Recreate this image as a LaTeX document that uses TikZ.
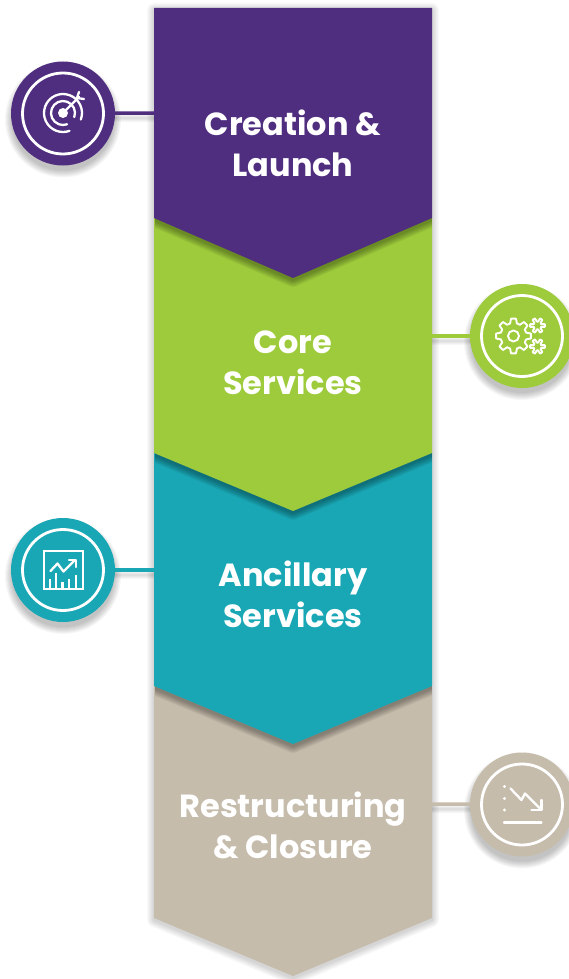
\documentclass[tikz,border=0pt]{standalone}
\usepackage{fontspec}
\setmainfont{Poppins}
\usetikzlibrary{calc}
\definecolor{purplestage}{HTML}{4F2D7F}
\definecolor{greenstage}{HTML}{9DCB3B}
\definecolor{tealstage}{HTML}{1AA7B5}
\definecolor{beigestage}{HTML}{C6BCAC}
\tikzset{
	stagetext/.style={text=white,align=center,font=\fontsize{32}{41}\selectfont\bfseries},
	badge/.style={circle,minimum size=104pt,inner sep=0pt,fill=#1},
	ring/.style={draw=white,line width=2.8pt},
	icon/.style={draw=white,line width=2.3pt,line cap=round,line join=round},
	link/.style={line width=3.5pt,draw=#1}
}
% one gear outline: x, y, outer radius, inner radius, teeth
\newcommand{\gearicon}[5]{
	\pgfmathsetmacro{\gstep}{360/#5}
	\foreach \k in {1,...,#5} {
		\pgfmathsetmacro{\ga}{\k*\gstep}
		\draw[icon,line width=1.9pt] ($(#1,#2)+(\ga-0.34*\gstep:#4)$) -- ($(#1,#2)+(\ga-0.18*\gstep:#3)$) -- ($(#1,#2)+(\ga+0.18*\gstep:#3)$) -- ($(#1,#2)+(\ga+0.34*\gstep:#4)$) -- ($(#1,#2)+(\ga+0.66*\gstep:#4)$);
	}
}
\begin{document}
\begin{tikzpicture}[x=1pt,y=-1pt]
\useasboundingbox (0,0) rectangle (568,979);
\fill[white] (0,0) rectangle (568,979);
% soft shadow round the whole column
\foreach \s in {1,...,7} {
	\begin{scope}[transparency group,opacity=0.022]
		\draw[black,fill=black,line width=2*\s pt,line join=round] (154,10) -- (432,10) -- (432,920) -- (293,978) -- (154,920) -- cycle;
	\end{scope}
}
% stages, last one first so that each one lies over the next
\foreach \ya/\yb/\ytip/\col/\op in {686/918/976/beigestage/0,453/686/744/tealstage/0.05,218/453/511/greenstage/0.05,8/218/278/purplestage/0.05} {
	\begin{scope}
		\clip (155,\yb) rectangle (431,\ytip+30);
		\foreach \s in {1,...,7} {
			\begin{scope}[transparency group,opacity=\op]
				\draw[black,fill=black,line width=2*\s pt,line join=round] (154,\ya) -- (432,\ya) -- (432,\yb+2) -- (293,\ytip+2) -- (154,\yb+2) -- cycle;
			\end{scope}
		}
	\end{scope}
	\fill[\col] (154,\ya) -- (432,\ya) -- (432,\yb) -- (293,\ytip) -- (154,\yb) -- cycle;
}
\node[stagetext] (creation) at (293,143.5) {Creation \&\\Launch};
\node[stagetext] (core) at (293,363) {Core\\Services};
\node[stagetext] (ancillary) at (293,594) {Ancillary\\Services};
\node[stagetext] (closure) at (293,825) {Restructuring\\\& Closure};

\coordinate (edge1) at (154,113);
\coordinate (edge2) at (432,336);
\coordinate (edge3) at (154,570);
\coordinate (edge4) at (432,804);

% badges with their links
\foreach \n/\x/\y/\col in {1/63/113.5/purplestage,2/522/336/greenstage,3/63/570/tealstage,4/522/804.5/beigestage} {
	\foreach \s in {1,...,8} {
		\fill[black,opacity=0.03] (\x,\y+6) circle (50+\s);
	}
	\foreach \s in {1,...,4} {
		\draw[black,opacity=0.03,line width=2*\s pt] (edge\n) ++(0,5) -- (\x,\y+5);
	}
	\node[badge=\col] (badge\n) at (\x,\y) {};
	\draw[link=\col] (badge\n) -- (edge\n);
	\draw[ring] (badge\n.center) circle (40.5);
}

% target
\draw[icon] (63,113) ++(20:19) arc (20:-290:19);
\draw[icon] (63,113) ++(20:12) arc (20:-290:12);
\fill[white] (63,113) circle (5);
\draw[icon] (63,113) -- (79,97);
\draw[icon] (79,92) -- (77,98) -- (84,99);

% gears
\gearicon{513.5}{336}{17.5}{13}{8}
\draw[icon,line width=1.9pt] (513.5,336) circle (5.5);
\gearicon{537.5}{325.5}{7.5}{4}{6}
\gearicon{537.5}{346.5}{7.5}{4}{6}

% chart
\draw[icon,line join=miter,line width=2.3pt] (44,551) rectangle (83,589);
\draw[icon] (50.5,571) -- (57.5,563.5) -- (63.5,571.5) -- (75,560);
\draw[icon] (69,560) -- (76,560) -- (76,567);
\foreach \bx/\by in {50/578.5,56/573,62.5/581.5,69/578.5,76/575} {
	\draw[icon,line cap=butt] (\bx,\by) -- (\bx,589);
}

% falling line
\foreach \dy in {786.5,798.5,810} {
	\fill[white] (504.5,\dy) circle (1.6);
}
\draw[icon] (510.5,788.5) -- (521.5,800) -- (525,793.5) -- (541,809.5);
\draw[icon] (541.5,800) -- (541.5,810) -- (531.5,810);
\draw[icon] (504,822.5) -- (541.5,822.5);
\end{tikzpicture}
\end{document}
